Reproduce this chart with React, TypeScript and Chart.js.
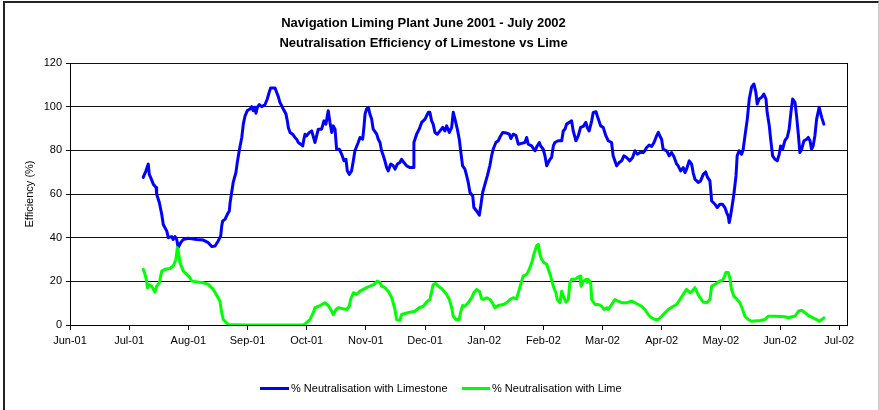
import React, { useEffect, useRef } from "react";
import { Chart, registerables } from "chart.js";

Chart.register(...registerables);

const titleLines = [
  "Navigation Liming Plant June 2001 - July 2002",
  "Neutralisation Efficiency of Limestone vs Lime",
];
const yAxisTitle = "Efficiency (%)";
const monthLabels = [
  "Jun-01", "Jul-01", "Aug-01", "Sep-01", "Oct-01", "Nov-01", "Dec-01",
  "Jan-02", "Feb-02", "Mar-02", "Apr-02", "May-02", "Jun-02", "Jul-02",
];
const yTicks = [0, 20, 40, 60, 80, 100, 120];
const seriesNames = ["% Neutralisation with Limestone", "% Neutralisation with Lime"];
const seriesColors = ["#0000ff", "#00ff00"];

// x positions in day index from 1 June 2001
const limestoneDay = [
  37.6, 39.0, 40.2, 40.7, 41.4, 42.8, 44.2, 44.5, 45.9, 47.1, 47.9, 49.7, 50.5, 52.2, 53.0, 53.9, 54.8, 55.6, 56.8, 58.2,
  60.7, 65.1, 68.4, 71.0, 72.8, 74.5, 76.1, 77.4, 77.9, 78.4, 79.6, 80.8, 81.8, 82.2, 83.0, 83.8, 85.2, 85.9, 86.9, 88.2,
  89.0, 89.9, 91.0, 92.4, 93.3, 94.1, 95.0, 95.5, 96.2, 97.2, 98.4, 100.1, 101.3, 102.3, 103.0, 104.4, 105.3, 106.1, 107.0, 107.8,
  108.7, 109.5, 110.9, 111.6, 112.1, 113.0, 114.3, 115.5, 116.4, 117.2, 118.5, 119.5, 120.1, 120.7, 121.5, 122.9, 124.1, 125.8, 127.5, 129.2,
  130.4, 131.4, 132.6, 133.5, 134.4, 135.2, 136.1, 136.9, 138.3, 139.5, 140.7, 141.7, 142.4, 143.4, 144.6, 145.5, 146.3, 148.0, 148.9, 150.3,
  151.0, 151.5, 152.3, 153.2, 154.0, 154.9, 155.7, 157.5, 158.3, 159.2, 160.0, 160.9, 161.7, 162.6, 163.4, 164.7, 166.0, 166.9, 168.1, 169.4,
  170.3, 171.5, 172.9, 174.6, 176.3, 176.6, 178.0, 179.3, 180.6, 182.3, 184.0, 184.8, 185.7, 186.5, 187.4, 188.6, 190.0, 191.4, 192.5, 193.4,
  194.8, 196.0, 196.8, 197.7, 198.9, 199.9, 200.6, 201.6, 202.8, 203.7, 204.5, 205.4, 206.8, 207.4, 208.8, 210.2, 211.0, 211.9, 213.1, 214.3,
  215.6, 216.5, 217.3, 218.7, 219.9, 221.1, 222.2, 224.2, 225.6, 226.4, 227.6, 229.0, 230.2, 231.9, 233.6, 234.5, 235.3, 237.1, 237.9, 238.8,
  239.9, 241.0, 241.7, 243.0, 243.9, 244.8, 245.6, 246.5, 247.3, 248.2, 249.0, 250.7, 252.5, 253.3, 254.2, 255.0, 256.4, 257.6, 258.4, 259.8,
  261.0, 262.2, 263.6, 264.9, 265.6, 266.6, 267.9, 268.7, 270.1, 271.3, 272.5, 273.8, 275.2, 276.4, 278.1, 278.9, 279.8, 280.7, 282.0, 283.3,
  284.4, 285.8, 287.5, 288.9, 290.1, 291.3, 292.7, 294.4, 295.2, 296.1, 297.4, 298.7, 299.9, 301.2, 302.1, 302.9, 303.8, 304.6, 306.4, 307.7,
  308.9, 310.1, 311.5, 312.3, 313.6, 314.9, 315.8, 316.6, 318.0, 319.2, 320.0, 320.9, 322.6, 323.8, 325.2, 326.4, 327.4, 328.6, 329.5, 331.2,
  332.4, 333.7, 335.1, 336.3, 337.2, 338.0, 338.5, 339.2, 340.3, 340.9, 342.0, 342.6, 343.6, 344.9, 345.7, 346.6, 347.8, 348.8, 350.0, 351.2,
  352.2, 352.9, 353.9, 355.2, 356.3, 357.4, 358.0, 359.1, 359.8, 360.8, 362.0, 363.2, 364.2, 364.9, 365.9, 367.1, 368.3, 369.3, 370.2, 371.1,
  372.3, 373.1, 374.0, 374.8, 375.7, 376.9, 378.3, 379.1, 380.0, 380.8, 381.6, 382.5, 383.4, 384.7, 386.0, 387.1,
];
const limestoneValue = [
  67.6, 70.6, 73.7, 69, 67.6, 64.5, 63, 59.9, 56, 50.7, 46, 43, 40, 40.5, 39.2, 40.5, 39.2, 35.4, 37.7, 39.2,
  39.7, 39.2, 38.9, 37.7, 35.9, 36.2, 38.5, 40.8, 45.3, 47.6, 48.4, 50.7, 52.2, 56, 60.7, 65.3, 69.8, 74.4, 79.8, 85.9,
  92, 95.8, 98.1, 98.9, 100, 98.1, 99.7, 97, 99.7, 100.9, 100, 100.9, 103.5, 106.6, 108.5, 108.5, 108.5, 106.6, 104.5, 102,
  100.4, 98.9, 96.6, 93.5, 90.5, 88.2, 87.4, 85.9, 85.1, 83.6, 82.8, 82, 85.1, 87.4, 86.6, 88.2, 88.9, 83.6, 89.7, 89.7,
  93.5, 92, 98.1, 92.8, 88.2, 91.2, 89.7, 80.5, 80.5, 78.2, 75.2, 75.9, 70.6, 69, 70.6, 75.2, 79.8, 83.6, 85.9, 85.1,
  91.2, 96.6, 98.9, 99.7, 96.6, 94.3, 89.7, 87.4, 85.1, 83.6, 79.8, 77.5, 75.2, 72.1, 70.6, 73.7, 72.9, 71.4, 73.7, 74.4,
  75.9, 74.4, 72.9, 72.1, 72.1, 83.6, 87.4, 89.7, 92.8, 94.3, 97.4, 97.4, 93.5, 92, 88.2, 87.4, 88.9, 90.5, 88.9, 91.2,
  88.2, 90.5, 97.4, 94.3, 89.7, 85.1, 79.8, 72.9, 71.4, 68.3, 65.3, 60.7, 59.1, 53.8, 52.2, 50.3, 55, 60.7, 64.5, 68.3,
  73, 77.5, 80.5, 83.6, 84.4, 86.6, 88.2, 87.9, 87.4, 85.4, 87.4, 86.9, 82.8, 83.2, 83.6, 85.9, 82.8, 82, 80.9, 79.8,
  82, 83.6, 82, 80.5, 77.5, 72.9, 74.4, 75.9, 76.7, 82, 83.6, 84.4, 84.4, 88.9, 89.7, 92, 92.8, 93.5, 88.9, 84.4,
  86.6, 90.5, 91, 92.8, 90.5, 88.9, 93.5, 97.4, 97.7, 94.3, 91.2, 90.5, 86.6, 84.4, 83.6, 77.5, 75.2, 72.9, 74.4, 75.2,
  77.5, 76.7, 75.2, 76.7, 79.8, 78.2, 79, 79, 79.8, 81.3, 82.4, 81.8, 83.6, 86.6, 88.2, 86.6, 85.1, 80.5, 79.8, 77.5,
  79, 77.2, 73.7, 72.9, 70.6, 72.1, 69.8, 71.3, 75.2, 73.7, 69.8, 66.8, 65.3, 66, 69, 70.1, 67.6, 66, 56.8, 55.3,
  53.8, 55.3, 55.3, 53.8, 51.5, 49.9, 46.9, 49.9, 56.1, 59.9, 68.3, 77.5, 79.8, 78.2, 80.5, 86.6, 94.3, 103.5, 108.9, 110.4,
  106.6, 101.2, 103.5, 104.3, 105.8, 103.5, 97.4, 91.2, 85.1, 77.5, 75.9, 75.2, 78.2, 82, 80.5, 84.4, 85.9, 89.7, 97.4, 103.5,
  102, 95.8, 87.4, 79, 80.5, 84.4, 85.1, 85.9, 84.4, 80.5, 82, 86.6, 94.3, 99.7, 95.1, 92,
];

const limeDay = [
  37.6, 38.5, 39.2, 39.8, 40.2, 41.9, 43.6, 44.5, 45.9, 47.1, 48.8, 51.3, 53.0, 54.4, 55.1, 55.6, 56.5, 58.2, 61.6, 62.5,
  68.4, 71.0, 73.6, 75.6, 77.0, 77.9, 78.7, 81.3, 90, 100, 110, 119.8, 120.7, 123.2, 124.9, 125.8, 128.4, 130.9, 132.6, 134.4,
  135.2, 136.6, 137.8, 140.3, 142.1, 143.4, 144.1, 145.5, 147.2, 148.9, 150.6, 152.3, 154.0, 156.1, 157.8, 159.2, 160.0, 161.7, 163.4, 165.2,
  166.9, 167.7, 169.4, 170.3, 172.0, 174.6, 177.1, 179.3, 181.4, 183.5, 184.8, 186.5, 187.9, 189.1, 190.9, 192.0, 193.4, 194.8, 196.0, 196.8,
  198.2, 199.9, 200.6, 201.6, 202.8, 204.5, 206.3, 207.4, 208.8, 210.2, 211.4, 212.3, 214.0, 215.6, 217.0, 218.2, 219.9, 222.5, 224.2, 225.9,
  227.6, 229.3, 230.7, 231.9, 232.7, 234.5, 235.8, 237.1, 238.2, 239.6, 240.5, 241.3, 242.2, 243.4, 244.8, 245.6, 246.8, 248.2, 249.5, 250.2,
  251.6, 252.5, 253.3, 254.7, 255.9, 256.7, 257.6, 259.3, 260.5, 261.9, 262.4, 263.6, 264.9, 265.6, 266.1, 267.4, 267.9, 269.6, 271.3, 273.0,
  274.2, 275.6, 276.4, 278.1, 279.8, 281.5, 283.3, 285.8, 288.4, 290.1, 291.8, 293.5, 295.2, 296.9, 298.7, 300.4, 302.1, 303.8, 305.5, 307.2,
  309.8, 311.5, 313.2, 314.9, 316.6, 318.3, 319.5, 320.9, 322.1, 323.5, 325.2, 326.9, 328.6, 329.5, 331.2, 332.4, 333.7, 335.1, 335.8, 336.8,
  338.0, 338.8, 339.7, 340.9, 342.6, 344.0, 345.4, 346.6, 348.3, 350.0, 354.3, 356.9, 358.5, 362.0, 367.1, 368.8, 370.6, 372.3, 374.0, 375.7,
  377.4, 379.1, 381.6, 383.4, 384.7, 386.0, 387.1,
];
const limeValue = [
  25.5, 23.2, 20.9, 17, 18.6, 17.8, 15.1, 17.8, 19.4, 24.7, 25.5, 25.9, 27, 30, 35.4, 33.9, 28.5, 24.7, 21.7, 20.1,
  19.4, 18.6, 16.3, 13.2, 10.9, 5.6, 2.5, 0.2, 0, 0, 0, 0, 0.5, 2.5, 5.6, 7.9, 8.9, 10.2, 8.9, 6.3,
  4.8, 7.1, 7.9, 7.4, 7.1, 8.6, 11.7, 14.8, 14, 15.5, 16.3, 17.1, 17.8, 18.6, 20.1, 19.4, 17.8, 17.1, 15.5, 12.5,
  7.1, 2.5, 2.1, 4.8, 5.3, 5.9, 6.3, 7.9, 8.6, 10.9, 11.7, 18.6, 19, 17.8, 16.6, 15.5, 14, 11.7, 7.9, 4,
  2.5, 2.5, 5.9, 8.9, 8.6, 10.2, 12.5, 14.8, 16.3, 15.5, 12, 11.7, 12.5, 11.7, 10, 7.9, 8.9, 9.4, 10.2, 11.7,
  12.5, 12, 16.3, 20.1, 22.4, 23.2, 25.5, 28.5, 32.4, 36.2, 36.9, 32.4, 30.1, 28.5, 27.8, 25.5, 22.4, 17.8, 14.8, 11.7,
  10.2, 15.5, 13.2, 10.5, 11.7, 19.4, 20.9, 20.9, 21.7, 22.4, 17.8, 20.1, 20.9, 19.6, 20.9, 19.4, 11.7, 9.4, 9.4, 8.6,
  7.1, 7.9, 7.1, 9.4, 11.7, 10.9, 10.2, 10.2, 10.9, 10.2, 9.4, 8.6, 7.1, 4.8, 3.3, 2.5, 2.5, 4, 5.6, 7.1,
  8.6, 9.4, 11.7, 14, 16.3, 14.8, 15.5, 17.1, 14.8, 12.5, 10.5, 10.2, 11.7, 17.8, 18.6, 19.4, 20.1, 20.6, 21.7, 24,
  24, 21.7, 16.3, 13.2, 11.7, 10.2, 7.1, 4, 2.5, 1.7, 2.1, 2.5, 4, 4, 3.8, 3.3, 3.8, 4, 6.3, 6.8,
  5.6, 4.4, 3.3, 2.5, 1.7, 2.5, 3.3,
];

const FONT = "'Liberation Sans', Arial, Helvetica, sans-serif";
const X_MAX = 399;
const MONTH_SPAN = 395 / 13;

export default function App() {
  const canvasRef = useRef<HTMLCanvasElement | null>(null);

  useEffect(() => {
    if (!canvasRef.current) return;
    const tickValues = monthLabels.map((_, i) => i * MONTH_SPAN);
    const frameRight = {
      id: "frameRight",
      afterDraw(chart: any) {
        const { ctx, chartArea } = chart;
        ctx.save();
        ctx.strokeStyle = "#000";
        ctx.lineWidth = 1;
        ctx.beginPath();
        const x = Math.round(chartArea.right) + 0.5;
        ctx.moveTo(x, chartArea.top);
        ctx.lineTo(x, chartArea.bottom);
        ctx.stroke();
        ctx.restore();
      },
    };
    const chart = new Chart(canvasRef.current, {
      type: "line",
      data: {
        datasets: [
          {
            label: seriesNames[0],
            data: limestoneDay.map((d, i) => ({ x: d, y: limestoneValue[i] })),
            borderColor: seriesColors[0],
            backgroundColor: seriesColors[0],
            borderWidth: 3,
            pointRadius: 0,
            tension: 0,
            borderJoinStyle: "round",
            borderCapStyle: "round",
            order: 2,
          },
          {
            label: seriesNames[1],
            data: limeDay.map((d, i) => ({ x: d, y: limeValue[i] })),
            borderColor: seriesColors[1],
            backgroundColor: seriesColors[1],
            borderWidth: 3,
            pointRadius: 0,
            tension: 0,
            borderJoinStyle: "round",
            borderCapStyle: "round",
            order: 1,
          },
        ],
      },
      options: {
        animation: false,
        responsive: false,
        devicePixelRatio: 1,
        layout: { padding: { top: 0, left: 0, right: 32, bottom: 55 } },
        plugins: {
          legend: { display: false },
          tooltip: { enabled: false },
          title: {
            display: true,
            text: titleLines,
            color: "#000",
            font: { family: FONT, size: 13, weight: "bold", lineHeight: 20 / 13 },
            padding: { top: 13, bottom: 10 },
          },
        },
        scales: {
          x: {
            type: "linear",
            min: 0,
            max: X_MAX,
            afterBuildTicks: (s: any) => {
              s.ticks = tickValues.map((v) => ({ value: v }));
            },
            afterFit: (s: any) => {
              s.height = 30;
            },
            ticks: {
              autoSkip: false,
              maxRotation: 0,
              minRotation: 0,
              padding: 4,
              color: "#000",
              font: { family: FONT, size: 11 },
              callback: (_v: any, i: number) => monthLabels[i],
            },
            grid: { drawOnChartArea: false, drawTicks: true, tickLength: 5, color: "#000" },
            border: { display: true, color: "#000", width: 1 },
          },
          y: {
            min: 0,
            max: 120,
            afterBuildTicks: (s: any) => {
              s.ticks = yTicks.map((v) => ({ value: v }));
            },
            afterFit: (s: any) => {
              s.width = 70;
            },
            ticks: {
              padding: 4,
              color: "#000",
              font: { family: FONT, size: 11 },
            },
            grid: { color: "#111", tickLength: 4, lineWidth: 1 },
            border: { display: true, color: "#000", width: 1 },
            title: {
              display: true,
              text: yAxisTitle,
              color: "#000",
              font: { family: FONT, size: 11 },
              padding: { top: 23, bottom: 0 },
            },
          },
        },
      },
      plugins: [frameRight],
    } as any);
    return () => chart.destroy();
  }, []);

  const legendText: React.CSSProperties = {
    position: "absolute",
    top: 381,
    height: 14,
    lineHeight: "14px",
    fontFamily: FONT,
    fontSize: 11,
    color: "#000",
    whiteSpace: "nowrap",
  };

  return (
    <div
      style={{
        position: "absolute",
        left: 0,
        top: 0,
        width: 879,
        height: 410,
        background: "#fff",
        overflow: "hidden",
      }}
    >
      <canvas
        ref={canvasRef}
        width={879}
        height={410}
        style={{ position: "absolute", left: 0, top: 0, width: 879, height: 410 }}
      />
      <div
        style={{
          position: "absolute",
          left: 3,
          top: 1,
          width: 873,
          height: 500,
          borderLeft: "2px solid #222",
          borderTop: "2px solid #222",
          borderRight: "1px solid #c8c8c8",
          pointerEvents: "none",
        }}
      />
      <div style={{ position: "absolute", left: 260, top: 386.5, width: 29, height: 3, background: seriesColors[0] }} />
      <div style={{ ...legendText, left: 291 }}>{seriesNames[0]}</div>
      <div style={{ position: "absolute", left: 462, top: 386.5, width: 28, height: 3, background: seriesColors[1] }} />
      <div style={{ ...legendText, left: 492 }}>{seriesNames[1]}</div>
    </div>
  );
}
